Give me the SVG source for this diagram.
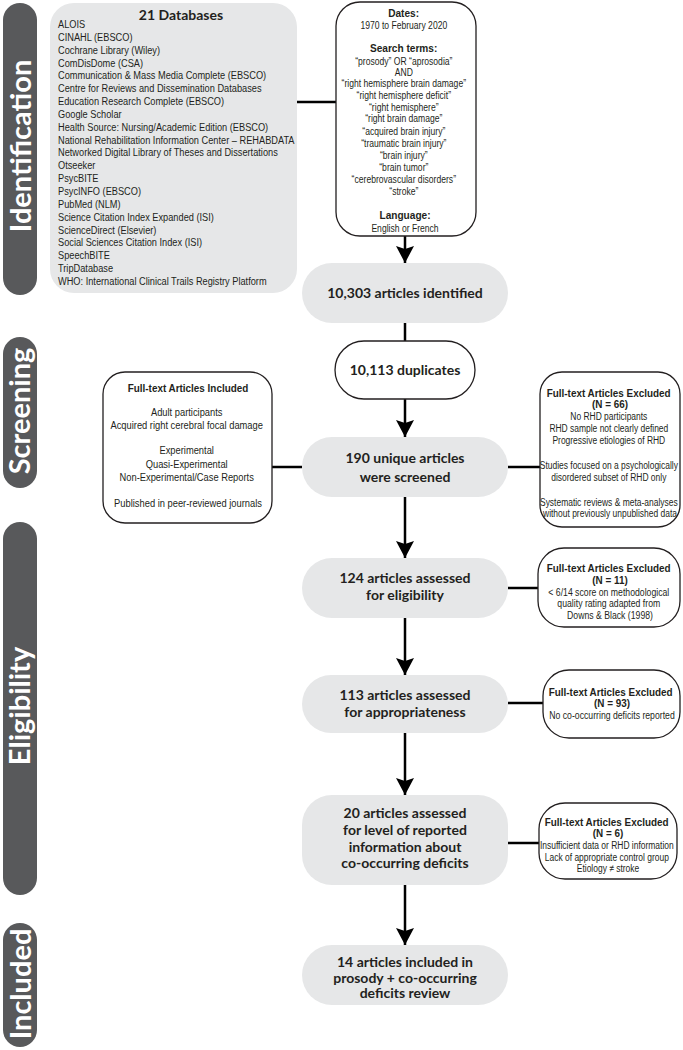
<svg xmlns="http://www.w3.org/2000/svg" width="683" height="1050" viewBox="0 0 683 1050">
<defs>
<style>
.stage{fill:#58595b}
.stxt{fill:#ffffff;font-family:Lato,"Open Sans",sans-serif;font-weight:700;font-size:29px;text-anchor:middle}
.gray{fill:#e6e7e8}
.wbox{fill:#ffffff;stroke:#231f20;stroke-width:1.3}
.main{fill:#231f20;font-family:Lato,"Open Sans",sans-serif;font-weight:700;font-size:14px;text-anchor:middle}
.sm{fill:#231f20;font-family:"Liberation Sans",Arial,sans-serif;font-size:11px}
.c{text-anchor:middle}
.b{font-weight:700}
.line{stroke:#000;stroke-width:2.5;fill:none}
</style>
<marker id="arr" markerUnits="userSpaceOnUse" markerWidth="18" markerHeight="18" viewBox="0 0 17 18" refX="17" refY="9" orient="auto">
<path d="M0,0 L17,9 L0,18 L3,9 z" fill="#000"/>
</marker>
</defs>
<rect width="683" height="1050" fill="#ffffff"/>

<g id="stages">
<rect class="stage" x="3" y="3" width="34" height="292" rx="17"/>
<text class="stxt" transform="translate(31,146) rotate(-90)">Identification</text>
<rect class="stage" x="3" y="337" width="34" height="151" rx="17"/>
<text class="stxt" transform="translate(30,411) rotate(-90)">Screening</text>
<rect class="stage" x="3" y="522" width="34" height="373" rx="17"/>
<text class="stxt" transform="translate(30,706) rotate(-90)">Eligibility</text>
<rect class="stage" x="3" y="923" width="34" height="124" rx="17"/>
<text class="stxt" transform="translate(31,984) rotate(-90)">Included</text>
</g>

<g id="connectors">
<line class="line" x1="297" y1="102" x2="336" y2="102"/>
<line class="line" x1="405" y1="236" x2="405" y2="263" marker-end="url(#arr)"/>
<line class="line" x1="405" y1="323" x2="405" y2="341"/>
<line class="line" x1="405" y1="399" x2="405" y2="437" marker-end="url(#arr)"/>
<line class="line" x1="272" y1="467" x2="302" y2="467"/>
<line class="line" x1="508" y1="467" x2="540" y2="467"/>
<line class="line" x1="405" y1="497" x2="405" y2="558" marker-end="url(#arr)"/>
<line class="line" x1="508" y1="588" x2="538" y2="588"/>
<line class="line" x1="405" y1="618" x2="405" y2="675" marker-end="url(#arr)"/>
<line class="line" x1="508" y1="703" x2="543" y2="703"/>
<line class="line" x1="405" y1="733" x2="405" y2="795" marker-end="url(#arr)"/>
<line class="line" x1="508" y1="843" x2="539" y2="843"/>
<line class="line" x1="405" y1="885" x2="405" y2="945" marker-end="url(#arr)"/>
</g>

<g id="databases">
<rect class="gray" x="50" y="3" width="247" height="290" rx="24"/>
<text class="main" x="181" y="20">21 Databases</text>
<g transform="translate(58,0) scale(0.84,1)">
<text class="sm">
<tspan x="0" y="28">ALOIS</tspan>
<tspan x="0" y="40.85">CINAHL (EBSCO)</tspan>
<tspan x="0" y="53.7">Cochrane Library (Wiley)</tspan>
<tspan x="0" y="66.55">ComDisDome (CSA)</tspan>
<tspan x="0" y="79.4">Communication &amp; Mass Media Complete (EBSCO)</tspan>
<tspan x="0" y="92.25">Centre for Reviews and Dissemination Databases</tspan>
<tspan x="0" y="105.1">Education Research Complete (EBSCO)</tspan>
<tspan x="0" y="117.95">Google Scholar</tspan>
<tspan x="0" y="130.8">Health Source: Nursing/Academic Edition (EBSCO)</tspan>
<tspan x="0" y="143.65">National Rehabilitation Information Center – REHABDATA</tspan>
<tspan x="0" y="156.5">Networked Digital Library of Theses and Dissertations</tspan>
<tspan x="0" y="169.35">Otseeker</tspan>
<tspan x="0" y="182.2">PsycBITE</tspan>
<tspan x="0" y="195.05">PsycINFO (EBSCO)</tspan>
<tspan x="0" y="207.9">PubMed (NLM)</tspan>
<tspan x="0" y="220.75">Science Citation Index Expanded (ISI)</tspan>
<tspan x="0" y="233.6">ScienceDirect (Elsevier)</tspan>
<tspan x="0" y="246.45">Social Sciences Citation Index (ISI)</tspan>
<tspan x="0" y="259.3">SpeechBITE</tspan>
<tspan x="0" y="272.15">TripDatabase</tspan>
<tspan x="0" y="285">WHO: International Clinical Trails Registry Platform</tspan>
</text>
</g>
</g>

<g id="search">
<rect class="wbox" x="336" y="2" width="140" height="234" rx="24"/>
<g transform="translate(405,0) scale(0.92,1)">
<text class="sm c b">
<tspan x="0" y="17">Dates:</tspan>
<tspan x="0" y="52">Search terms:</tspan>
<tspan x="0" y="219">Language:</tspan>
</text>
</g>
<g transform="translate(405,0) scale(0.78,1)">
<text class="sm c">
<tspan x="0" y="29">1970 to February 2020</tspan>
<tspan x="0" y="65">“prosody” OR “aprosodia”</tspan>
<tspan x="0" y="76">AND</tspan>
<tspan x="0" y="87">“right hemisphere brain damage”</tspan>
<tspan x="0" y="99">“right hemisphere deficit”</tspan>
<tspan x="0" y="111">“right hemisphere”</tspan>
<tspan x="0" y="122">“right brain damage”</tspan>
<tspan x="0" y="135">“acquired brain injury”</tspan>
<tspan x="0" y="147">“traumatic brain injury”</tspan>
<tspan x="0" y="159">“brain injury”</tspan>
<tspan x="0" y="171">“brain tumor”</tspan>
<tspan x="0" y="183">“cerebrovascular disorders”</tspan>
<tspan x="0" y="195">“stroke”</tspan>
<tspan x="0" y="232">English or French</tspan>
</text>
</g>
</g>

<g id="identified">
<rect class="gray" x="302" y="263" width="206" height="60" rx="30"/>
<text class="main" x="405" y="298">10,303 articles identified</text>
</g>

<g id="duplicates">
<rect class="wbox" x="335" y="341" width="140" height="58" rx="29"/>
<text class="main" x="405" y="375">10,113 duplicates</text>
</g>

<g id="included-criteria">
<rect class="wbox" x="103" y="372" width="169" height="151" rx="22"/>
<g transform="translate(188,0) scale(0.9,1)">
<text class="sm c b" x="0" y="392">Full-text Articles Included</text>
</g>
<g transform="translate(188,0) scale(0.85,1)">
<text class="sm c">
<tspan x="0" y="416">Adult participants</tspan>
<tspan x="0" y="429">Acquired right cerebral focal damage</tspan>
<tspan x="0" y="454">Experimental</tspan>
<tspan x="0" y="468">Quasi-Experimental</tspan>
<tspan x="0" y="481">Non-Experimental/Case Reports</tspan>
<tspan x="0" y="507">Published in peer-reviewed journals</tspan>
</text>
</g>
</g>

<g id="screened">
<rect class="gray" x="302" y="437" width="206" height="60" rx="30"/>
<text class="main" x="405" y="463">190 unique articles</text>
<text class="main" x="405" y="482">were screened</text>
</g>

<g id="excluded66">
<rect class="wbox" x="540" y="372" width="140" height="155" rx="22"/>
<g transform="translate(610,0) scale(0.9,1)">
<text class="sm c b">
<tspan x="0" y="397">Full-text Articles Excluded</tspan>
<tspan x="0" y="408">(N = 66)</tspan>
</text>
</g>
<g transform="translate(610,0) scale(0.77,1)">
<text class="sm c">
<tspan x="0" y="420">No RHD participants</tspan>
<tspan x="0" y="432">RHD sample not clearly defined</tspan>
<tspan x="0" y="444">Progressive etiologies of RHD</tspan>
<tspan x="0" y="469">Studies focused on a psychologically</tspan>
<tspan x="0" y="481">disordered subset of RHD only</tspan>
<tspan x="0" y="506">Systematic reviews &amp; meta-analyses</tspan>
<tspan x="0" y="517">without previously unpublished data</tspan>
</text>
</g>
</g>

<g id="eligibility">
<rect class="gray" x="302" y="558" width="206" height="60" rx="30"/>
<text class="main" x="405" y="583">124 articles assessed</text>
<text class="main" x="405" y="600">for eligibility</text>
</g>

<g id="excluded11">
<rect class="wbox" x="538" y="548" width="142" height="79" rx="26"/>
<g transform="translate(610,0) scale(0.9,1)">
<text class="sm c b">
<tspan x="0" y="572">Full-text Articles Excluded</tspan>
<tspan x="0" y="584">(N = 11)</tspan>
</text>
</g>
<g transform="translate(610,0) scale(0.79,1)">
<text class="sm c">
<tspan x="0" y="596">&lt; 6/14 score on methodological</tspan>
<tspan x="0" y="607">quality rating adapted from</tspan>
<tspan x="0" y="619">Downs &amp; Black (1998)</tspan>
</text>
</g>
</g>

<g id="appropriateness">
<rect class="gray" x="302" y="675" width="206" height="58" rx="29"/>
<text class="main" x="405" y="700">113 articles assessed</text>
<text class="main" x="405" y="717">for appropriateness</text>
</g>

<g id="excluded93">
<rect class="wbox" x="543" y="670" width="137" height="68" rx="26"/>
<g transform="translate(612,0) scale(0.9,1)">
<text class="sm c b">
<tspan x="0" y="696">Full-text Articles Excluded</tspan>
<tspan x="0" y="707">(N = 93)</tspan>
</text>
</g>
<g transform="translate(612,0) scale(0.79,1)">
<text class="sm c" x="0" y="719">No co-occurring deficits reported</text>
</g>
</g>

<g id="level">
<rect class="gray" x="302" y="795" width="206" height="90" rx="30"/>
<text class="main" x="405" y="818">20 articles assessed</text>
<text class="main" x="405" y="835">for level of reported</text>
<text class="main" x="405" y="852">information about</text>
<text class="main" x="405" y="868">co-occurring deficits</text>
</g>

<g id="excluded6">
<rect class="wbox" x="539" y="803" width="138" height="76" rx="26"/>
<g transform="translate(608,0) scale(0.9,1)">
<text class="sm c b">
<tspan x="0" y="826">Full-text Articles Excluded</tspan>
<tspan x="0" y="837">(N = 6)</tspan>
</text>
</g>
<g transform="translate(608,0) scale(0.77,1)">
<text class="sm c">
<tspan x="0" y="849">Insufficient data or RHD information</tspan>
<tspan x="0" y="861">Lack of appropriate control group</tspan>
<tspan x="0" y="872">Etiology ≠ stroke</tspan>
</text>
</g>
</g>

<g id="final">
<rect class="gray" x="302" y="945" width="206" height="60" rx="30"/>
<text class="main" x="405" y="967">14 articles included in</text>
<text class="main" x="405" y="983">prosody + co-occurring</text>
<text class="main" x="405" y="998">deficits review</text>
</g>
</svg>
